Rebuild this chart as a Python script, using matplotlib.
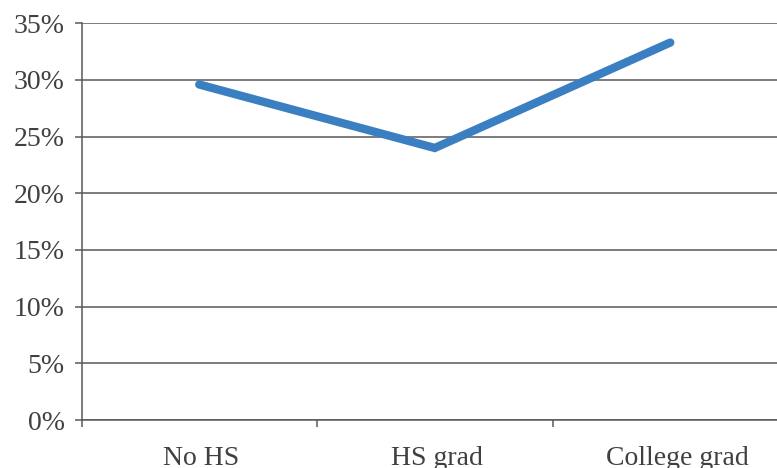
import matplotlib
matplotlib.use("Agg")
import matplotlib.pyplot as plt
from matplotlib.ticker import FixedLocator, FuncFormatter
from matplotlib.transforms import ScaledTranslation

# ─── Data ─────────────────────────────────────────────────────────────────────
categories = ["No HS", "HS grad", "College grad"]
values     = [29.6, 24.0, 33.3]          # percent
y_ticks    = [0, 5, 10, 15, 20, 25, 30, 35]

LINE_COLOR = "#3a7fc1"
GRID_COLOR = "#595959"
TEXT_COLOR = "#404040"

plt.rcParams["font.family"] = ["Liberation Serif", "DejaVu Serif"]

fig = plt.figure(figsize=(7.77, 4.68), dpi=100)
ax  = fig.add_axes([81.5 / 777, 48 / 468, 706.5 / 777, 396.7 / 468])

x = list(range(len(categories)))
ax.plot(x, values, color=LINE_COLOR, linewidth=6, solid_capstyle="round",
        solid_joinstyle="miter", zorder=3)

# ─── Axes ─────────────────────────────────────────────────────────────────────
ax.set_xlim(-0.5, len(categories) - 0.5)
ax.set_ylim(0, 35)
ax.set_yticks(y_ticks)
ax.yaxis.set_major_formatter(FuncFormatter(lambda v, _: f"{v:.0f}%"))
ax.grid(axis="y", color=GRID_COLOR, linewidth=1.1, zorder=1)

# category boundaries get tick marks, centres get the labels
ax.xaxis.set_major_locator(FixedLocator([-0.5, 0.5, 1.5, 2.5]))
ax.xaxis.set_major_formatter(FuncFormatter(lambda v, _: ""))
ax.xaxis.set_minor_locator(FixedLocator(x))
ax.set_xticklabels(categories, minor=True)

ax.tick_params(axis="x", which="major", length=5, width=1.1, color=GRID_COLOR,
               direction="out")
ax.tick_params(axis="x", which="minor", length=0, pad=18.5, labelsize=20,
               labelcolor=TEXT_COLOR)
ax.tick_params(axis="y", length=5, width=1.1, color=GRID_COLOR, pad=7,
               labelsize=20, labelcolor=TEXT_COLOR)

# small nudges so the labels sit where the original put them
nudges = [2, 2, 7]
for lbl, dx in zip(ax.get_xticklabels(minor=True), nudges):
    lbl.set_transform(lbl.get_transform() +
                      ScaledTranslation(dx / 100, 0, fig.dpi_scale_trans))

for side in ["top", "right"]:
    ax.spines[side].set_visible(False)
for side in ["left", "bottom"]:
    ax.spines[side].set_color(GRID_COLOR)
    ax.spines[side].set_linewidth(1.1)

fig.savefig("out.png", dpi=100)
